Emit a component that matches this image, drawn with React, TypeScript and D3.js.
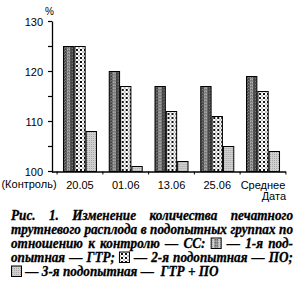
import React, { useMemo } from "react";
import * as d3 from "d3";

const categories = ["20.05", "01.06", "13.06", "25.06", "Среднее"];
const seriesCC = [125, 120, 117, 117, 119];
const seriesGTR = [125, 117, 112, 111, 116];
const seriesPO = [108, 101, 102, 105, 104];
const seriesKeys = ["s1", "s2", "s3"];
const yMajorTicks = [100, 110, 120, 130];
const yMinorTicks = [105, 115, 125];
const originLabel = "(Контроль)";
const yUnit = "%";
const xTitle = "Дата";

type Item = { t: string } | { sw: number };
const captionLines: Item[][] = [
  [{ t: "Рис." }, { t: "1." }, { t: "Изменение" }, { t: "количества" }, { t: "печатного" }],
  [{ t: "трутневого" }, { t: "расплода" }, { t: "в" }, { t: "подопытных" }, { t: "группах" }, { t: "по" }],
  [{ t: "отношению" }, { t: "к" }, { t: "контролю" }, { t: "—" }, { t: "СС:" }, { sw: 0 }, { t: "—" }, { t: "1-я" }, { t: "под-" }],
  [{ t: "опытная" }, { t: "—" }, { t: "ГТР;" }, { sw: 1 }, { t: "—" }, { t: "2-я" }, { t: "подопытная" }, { t: "—" }, { t: "ПО;" }],
  [{ sw: 2 }, { t: "—" }, { t: "3-я" }, { t: "подопытная" }, { t: "—" }, { t: "" }, { t: "ГТР" }, { t: "+" }, { t: "ПО" }],
];

const W = 300;
const H = 288;
const axisX = 52;
const capFamily = "'Liberation Serif', 'Times New Roman', 'DejaVu Serif', serif";
const capSize = 14;
const capFont = `italic bold ${capSize}px ${capFamily}`;
const sansNarrow = "'Liberation Sans Narrow', 'Arial Narrow', 'Liberation Sans', Arial, sans-serif";

export default function App() {
  const y = d3.scaleLinear().domain([100, 130]).range([171.5, 21.5]);
  const x = d3
    .scaleBand<string>()
    .domain(categories)
    .range([57.1, 285.9])
    .paddingInner(0.257)
    .paddingOuter(0.1285);
  const xs = d3.scaleBand<string>().domain(seriesKeys).range([0, x.bandwidth()]).padding(0);

  const data = categories.map((c, i) => ({
    c,
    vals: [seriesCC[i], seriesGTR[i], seriesPO[i]],
  }));
  const fills = ["url(#p1)", "url(#p2)", "url(#p3)"];

  const caption = useMemo(() => {
    const canvas = document.createElement("canvas");
    const ctx = canvas.getContext("2d")!;
    ctx.font = capFont;
    const xL = 11;
    const xR = 293;
    const swW = 11;
    const avail = xR - xL;
    const rawW = (it: Item) => ("t" in it ? ctx.measureText(it.t).width : 0);
    // horizontal squeeze so that line 2 fits with tight gaps, as in the reference
    const l2 = captionLines[1];
    const total2 = l2.reduce((a, it) => a + rawW(it), 0);
    const sx = Math.min(1, (avail - (l2.length - 1) * 3.5) / total2);
    const spaceW = ctx.measureText(" ").width * sx;
    const lines = captionLines.map((line, li) => {
      const widths = line.map((it) => ("t" in it ? rawW(it) * sx : swW));
      const total = widths.reduce((a, b) => a + b, 0);
      const gaps = line.length - 1;
      const justify = li < captionLines.length - 1;
      const gap = justify ? Math.max(2, (avail - total) / gaps) : spaceW;
      let cx = xL;
      return line.map((it, k) => {
        const pos = cx;
        cx += widths[k] + gap;
        return { it, x: pos, w: widths[k] };
      });
    });
    return { lines, sx };
  }, []);

  const baselines = [220, 234, 248, 262, 276];

  return (
    <svg width={W} height={H} style={{ position: "absolute", left: 0, top: 0, background: "#fff" }}>
      <defs>
        <pattern id="p1" width="4" height="3" patternUnits="userSpaceOnUse">
          <rect width="4" height="3" fill="#4a4a4a" />
          <rect x="1" y="0" width="1" height="1" fill="#7a7a7a" />
          <rect x="3" y="1" width="1" height="1" fill="#333" />
          <rect x="2" y="2" width="1" height="1" fill="#888" />
        </pattern>
        <pattern id="p1s" width="2" height="3" patternUnits="userSpaceOnUse">
          <rect width="2" height="3" fill="#8e8e8e" />
          <rect x="0" y="1" width="1" height="1" fill="#b0b0b0" />
          <rect x="1" y="2" width="1" height="1" fill="#6a6a6a" />
        </pattern>
        <pattern id="p2" width="4" height="4" patternUnits="userSpaceOnUse">
          <rect width="4" height="4" fill="#111" />
          <path d="M0.5,0.5 H3.5 V3.5 H0.5 Z" fill="none" stroke="#fff" strokeWidth="1" />
        </pattern>
        <pattern id="p3" width="2" height="2" patternUnits="userSpaceOnUse">
          <rect width="2" height="2" fill="#cfcfcf" />
          <rect x="0" y="0" width="1" height="1" fill="#a8a8a8" />
        </pattern>
      </defs>

      {/* y axis */}
      <line x1={axisX + 0.5} x2={axisX + 0.5} y1={y(130)} y2={y(100) + 1} stroke="#000" strokeWidth={1.3} />
      {[...yMajorTicks, ...yMinorTicks].map((t) => (
        <line key={"t" + t} x1={axisX - 4} x2={axisX} y1={y(t)} y2={y(t)} stroke="#000" strokeWidth={1.2} />
      ))}
      {yMajorTicks.map((t) => (
        <text
          key={"l" + t}
          x={43}
          y={y(t) + 4}
          textAnchor="end"
          fontFamily={sansNarrow}
          fontSize={11}
          fill="#000"
        >
          {t}
        </text>
      ))}
      <text x={49.5} y={15} textAnchor="middle" fontFamily={sansNarrow} fontSize={10} fill="#000">
        {yUnit}
      </text>

      {/* bars */}
      {data.map((d) => (
        <g key={d.c} transform={`translate(${x(d.c)},0)`}>
          {d.vals.map((v, k) => {
            const bx = (xs(seriesKeys[k]) as number) + 0.5;
            const bw = xs.bandwidth() - 1;
            return (
              <g key={k}>
                <rect
                  x={bx}
                  y={y(v)}
                  width={bw}
                  height={y(100) - y(v)}
                  fill={fills[k]}
                  stroke="#000"
                  strokeWidth={1}
                />
                {k === 0 && (
                  <rect x={bx + bw * 0.3} y={y(v) + 0.5} width={bw * 0.35} height={y(100) - y(v) - 1} fill="url(#p1s)" />
                )}
              </g>
            );
          })}
        </g>
      ))}

      {/* x axis */}
      <line x1={axisX} x2={285.9} y1={y(100) + 0.5} y2={y(100) + 0.5} stroke="#000" strokeWidth={1.3} />
      {d3.range(categories.length + 1).map((i) => {
        const xx = 57.1 + i * x.step();
        return <line key={"xt" + i} x1={xx} x2={xx} y1={y(100)} y2={y(100) + 3} stroke="#000" strokeWidth={1} />;
      })}
      <text x={29} y={188} textAnchor="middle" fontFamily={sansNarrow} fontSize={11} fill="#000">
        {originLabel}
      </text>
      {categories.map((c) => (
        <text
          key={"xl" + c}
          x={(x(c) as number) + x.bandwidth() / 2}
          y={189}
          textAnchor="middle"
          fontFamily={sansNarrow}
          fontSize={11}
          fill="#000"
        >
          {c}
        </text>
      ))}
      <text x={286} y={200} textAnchor="end" fontFamily={sansNarrow} fontSize={11} fill="#000">
        {xTitle}
      </text>

      {/* caption */}
      {caption.lines.map((line, li) => (
        <g key={"cap" + li}>
          {line.map((p, k) =>
            "t" in p.it ? (
              <text
                key={k}
                transform={`translate(${p.x},${baselines[li]}) scale(${caption.sx},1)`}
                fontFamily={capFamily}
                fontStyle="italic"
                fontWeight="bold"
                fontSize={capSize}
                fill="#000"
                stroke="#000"
                strokeWidth={0.3}
              >
                {p.it.t}
              </text>
            ) : (
              <g key={k}>
                <rect
                  x={p.x + 0.5}
                  y={baselines[li] - 10}
                  width={p.w - 1}
                  height={10.5}
                  fill={p.it.sw === 0 ? "url(#p3)" : fills[p.it.sw]}
                  stroke="#000"
                  strokeWidth={1}
                />
                {p.it.sw === 0 && (
                  <rect x={p.x + 3.5} y={baselines[li] - 9.5} width={4} height={9.5} fill="url(#p1s)" />
                )}
              </g>
            )
          )}
        </g>
      ))}
    </svg>
  );
}
